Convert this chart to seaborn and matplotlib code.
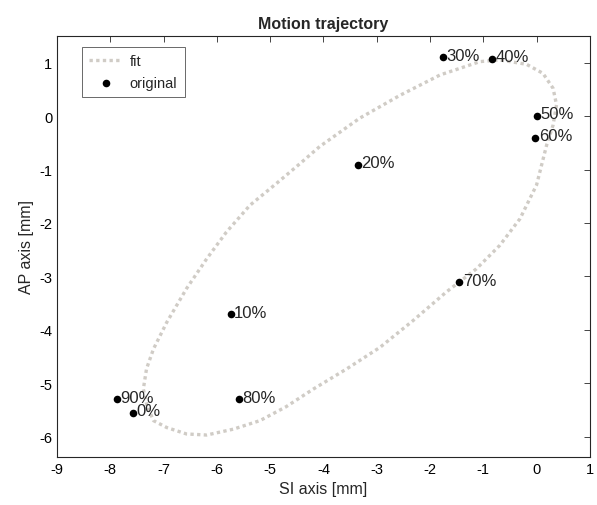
import matplotlib
matplotlib.use('Agg')
import matplotlib.pyplot as plt
import seaborn as sns
import pandas as pd

# Respiratory phase samples (SI, AP) in mm
phase_labels = ['0%', '10%', '20%', '30%', '40%', '50%', '60%', '70%', '80%', '90%']
si_orig = [-7.57, -5.74, -3.36, -1.76, -0.84, 0.00, -0.02, -1.45, -5.58, -7.87]
ap_orig = [-5.55, -3.71, -0.91, 1.10, 1.07, 0.00, -0.41, -3.11, -5.30, -5.30]

# Fitted trajectory (closed loop)
si_fit = [-7.31, -7.38, -7.32, -7.19, -6.94, -6.57, -6.19, -5.82, -5.38, -4.88,
          -4.44, -4.07, -3.32, -2.56, -1.81, -1.06, -0.69, -0.19, 0.12, 0.31,
          0.375, 0.31, 0.19, 0.00, -0.31, -0.69, -1.13, -1.69, -2.32, -2.94,
          -3.56, -4.19, -4.70, -5.19, -5.69, -6.19, -6.57, -6.94, -7.19, -7.31]
ap_fit = [-5.42, -5.11, -4.73, -4.36, -3.86, -3.23, -2.67, -2.17, -1.67, -1.26,
          -0.89, -0.57, -0.04, 0.39, 0.77, 1.02, 1.05, 0.97, 0.80, 0.52,
          0.21, -0.17, -0.54, -1.29, -1.92, -2.42, -2.86, -3.29, -3.83, -4.33,
          -4.73, -5.11, -5.44, -5.70, -5.86, -5.97, -5.95, -5.83, -5.70, -5.42]

orig = pd.DataFrame({'SI': si_orig, 'AP': ap_orig, 'phase': phase_labels})
fit = pd.DataFrame({'SI': si_fit, 'AP': ap_fit})

sns.set_style('white')
plt.rcParams['font.family'] = ['Liberation Sans', 'DejaVu Sans']
plt.rcParams['axes.unicode_minus'] = False

fig = plt.figure(figsize=(5.97, 5.06), dpi=100)
ax = fig.add_axes([0.0955, 0.095, 0.8925, 0.832])

sns.lineplot(data=fit, x='SI', y='AP', sort=False, estimator=None, ax=ax,
             color='#d0ccc6', linewidth=2.4, linestyle=(0, (1, 1)),
             dash_capstyle='butt', label='fit')
sns.scatterplot(data=orig, x='SI', y='AP', ax=ax, color='black', s=30,
                edgecolor='black', linewidth=0, label='original', zorder=3)

for _, r in orig.iterrows():
    ax.annotate(r['phase'], (r['SI'], r['AP']), xytext=(2.5, 1.5),
                textcoords='offset points', ha='left', va='center', fontsize=12)

ax.set_xlim(-9, 1)
ax.set_ylim(-6.38, 1.5)
ax.set_xticks(range(-9, 2))
ax.set_yticks(range(-6, 2))
ax.tick_params(direction='in', length=4, width=0.6, colors='#262626',
               top=True, right=True, labelsize=10.5, labelcolor='black')
for s in ax.spines.values():
    s.set_color('#262626')
    s.set_linewidth(0.8)

ax.set_xlabel('SI axis [mm]', fontsize=11.5)
ax.set_ylabel('AP axis [mm]', fontsize=11.5)
ax.set_title('Motion trajectory', fontsize=11.5, fontweight='bold', pad=6)

leg = ax.legend(loc='upper left', bbox_to_anchor=(0.046, 0.974), fontsize=10.5,
                frameon=True, fancybox=False, borderpad=0.5, borderaxespad=0,
                handlelength=2.3, handletextpad=0.5, labelspacing=0.55)
leg.get_frame().set_edgecolor('#262626')
leg.get_frame().set_linewidth(0.6)

plt.savefig('out.png', dpi=100)
